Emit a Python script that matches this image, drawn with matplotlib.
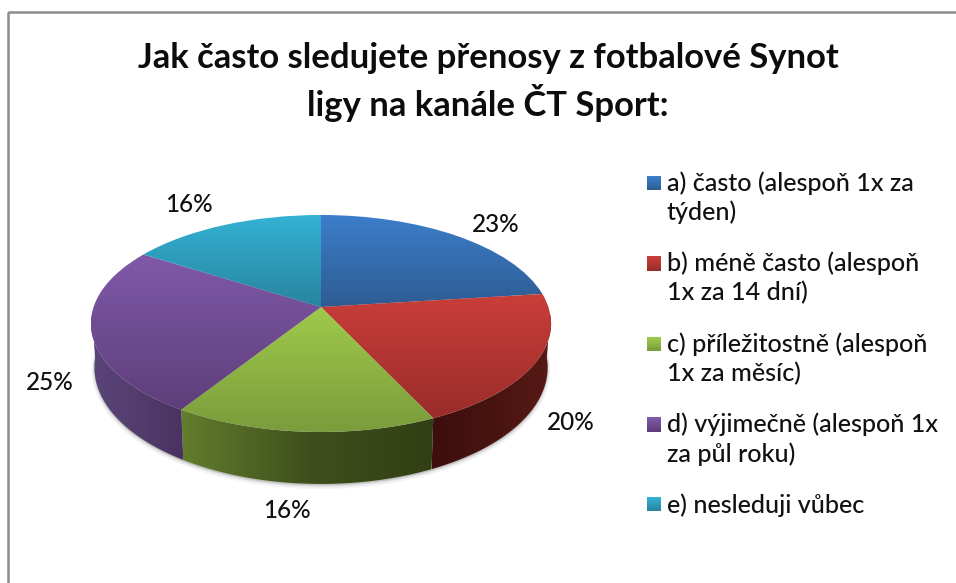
import numpy as np
import matplotlib
matplotlib.use("Agg")
import matplotlib.pyplot as plt
from matplotlib.colors import LinearSegmentedColormap, to_rgb
from matplotlib.legend_handler import HandlerBase
from matplotlib.patches import Patch, Polygon, Rectangle
from matplotlib.transforms import Transform

plt.rcParams['font.family'] = ['Lato', 'DejaVu Sans']

title = "Jak často sledujete přenosy z fotbalové Synot\nligy na kanále ČT Sport:"
categories = ["a) často (alespoň 1x za\ntýden)",
              "b) méně často (alespoň\n1x za 14 dní)",
              "c) příležitostně (alespoň\n1x za měsíc)",
              "d) výjimečně (alespoň 1x\nza půl roku)",
              "e) nesleduji vůbec"]
values = [23, 20, 16, 25, 16]
top_light = ["#3c7ecb", "#ca3e39", "#9fca4b", "#8059a9", "#34b2d5"]
top_dark = ["#2e5c92", "#9a2c2a", "#7a9c3c", "#5e3e7a", "#28849e"]
wall_left = ["#555555", "#3d0e0d", "#637d2d", "#5b4478", "#555555"]
wall_mid = ["#555555", "#481410", "#3f501c", "#533d6e", "#555555"]
wall_right = ["#555555", "#581a16", "#323e14", "#49325f", "#555555"]

W, H = 956, 583
CX, CY = 321, 307
RX, RY, K = 227.4, 106.0, 0.152


class Perspective(Transform):
    """Project the unit pie plane onto the tilted disc, in pixel coordinates."""
    input_dims = output_dims = 2

    def __init__(self, lower=False):
        super().__init__()
        self.lower = lower

    def transform_non_affine(self, xy):
        xy = np.asarray(xy, float)
        d = 1 + K * xy[:, 1]
        dx = RX * xy[:, 0] / d
        dy = -RY * xy[:, 1] / d
        if self.lower:
            dx = dx * 0.985
            dy = dy * 1.074 + 42.7
        return np.column_stack([CX + dx, CY + dy])


fig = plt.figure(figsize=(W / 100, H / 100), dpi=100, facecolor="white")
ax = fig.add_axes([0, 0, 1, 1])
wedges, _ = ax.pie(values, startangle=90, counterclock=False, radius=1.0)
ax.set_aspect("auto")
ax.set_xlim(0, W)
ax.set_ylim(H, 0)
ax.set_axis_off()

top_tf = Perspective() + ax.transData

# chart frame
ax.add_patch(Rectangle((8, 12), W + 20, H + 20, fill=False, ec="#8c8c8c", lw=1.8, zorder=0))

edges = 90 - np.cumsum([0] + values) * 3.6  # pie angles of slice borders
VIS_HI, VIS_LO = 90 - 94, 90 - 266  # part of the rim facing the viewer


def gradient(patch, colors, box, horizontal=False, z=2):
    cmap = LinearSegmentedColormap.from_list("g", colors)
    g = np.linspace(0, 1, 256)
    g = g[None, :] if horizontal else g[:, None]
    im = ax.imshow(g, cmap=cmap, extent=(box[0], box[2], box[3], box[1]),
                   aspect="auto", zorder=z, interpolation="bilinear")
    im.set_clip_path(patch)
    return im


# soft shadow under the rim
ring = np.radians(np.linspace(0, 360, 361))
ring_xy = Perspective(lower=True).transform_non_affine(np.column_stack([np.cos(ring), np.sin(ring)]))
for off in (4.0, 3.0, 2.0, 1.0):
    ax.add_patch(Polygon(ring_xy + [0, off * 0.6], closed=True, fc="#000000", ec="#000000",
                         lw=off, alpha=0.035, zorder=1))

# side walls
for i in range(len(values)):
    hi, lo = min(edges[i], VIS_HI), max(edges[i + 1], VIS_LO)
    if hi <= lo:
        continue
    a = np.radians(np.linspace(hi, lo, 80))
    unit = np.column_stack([np.cos(a), np.sin(a)])
    p_top = Perspective().transform_non_affine(unit)
    p_low = Perspective(lower=True).transform_non_affine(unit)
    pts = np.vstack([p_top, p_low[::-1]])
    poly = Polygon(pts, closed=True, fc="none", ec="none", zorder=2)
    ax.add_patch(poly)
    gradient(poly, [wall_left[i], wall_mid[i], wall_right[i]],
             (pts[:, 0].min(), pts[:, 1].min(), pts[:, 0].max(), pts[:, 1].max()), True, 2)

# top face
for i, w in enumerate(wedges):
    w.set_transform(top_tf)
    w.set_clip_on(False)
    w.set_facecolor("none")
    w.set_edgecolor("none")
    w.set_zorder(3)
    a = np.radians(np.linspace(edges[i + 1], edges[i], 120))
    unit = np.column_stack([np.r_[0, np.cos(a)], np.r_[0, np.sin(a)]])
    p = Perspective().transform_non_affine(unit)
    gradient(w, [top_light[i], top_dark[i]],
             (p[:, 0].min(), p[:, 1].min(), p[:, 0].max(), p[:, 1].max()), False, 3)

# data labels
label_xy = [(496, 225), (571, 422), (287, 510), (50, 382), (189, 205)]
for v, (x, y) in zip(values, label_xy):
    ax.text(x, y, f"{v}%", ha="center", va="center", fontsize=17.5, fontweight="medium",
            color="#111111", zorder=5)

ax.text(488, 82, title, ha="center", va="center", fontsize=24.9, fontweight="bold",
        linespacing=1.29, color="#0c0c0c", zorder=5)


class GradientSwatch(HandlerBase):
    """Legend key filled with the slice gradient, aligned to the label's first line."""

    def __init__(self, light, dark, shift):
        super().__init__()
        self.light, self.dark, self.shift = to_rgb(light), to_rgb(dark), shift

    def create_artists(self, legend, orig, xd, yd, width, height, fontsize, trans):
        n = 10
        arts = []
        size = 10.4
        y0 = -yd + (height - size) / 2 + self.shift
        for j in range(n):
            t = j / (n - 1)
            c = tuple((1 - t) * l + t * d for l, d in zip(self.light, self.dark))
            arts.append(Rectangle((-xd, y0 + size * (1 - (j + 1) / n)), size, size / n + 0.1,
                                  fc=c, ec="none", transform=trans))
        return arts


handles = [Patch(color=c) for c in top_light]
hmap = {h: GradientSwatch(top_light[i], top_dark[i], 10.8 if "\n" in categories[i] else 0)
        for i, h in enumerate(handles)}
leg = ax.legend(handles, categories, handler_map=hmap, loc="upper left",
                bbox_to_anchor=(647 / W, 1 - 171 / H), bbox_transform=fig.transFigure,
                frameon=False, labelspacing=1.1, handlelength=0.57,
                handletextpad=0.22, borderpad=0, borderaxespad=0, labelcolor="#111111",
                prop={"size": 18.1, "weight": "medium"})
for t in leg.get_texts():
    t.set_linespacing(1.3)
leg.set_zorder(6)

fig.savefig("out.png", dpi=100, facecolor="white")
